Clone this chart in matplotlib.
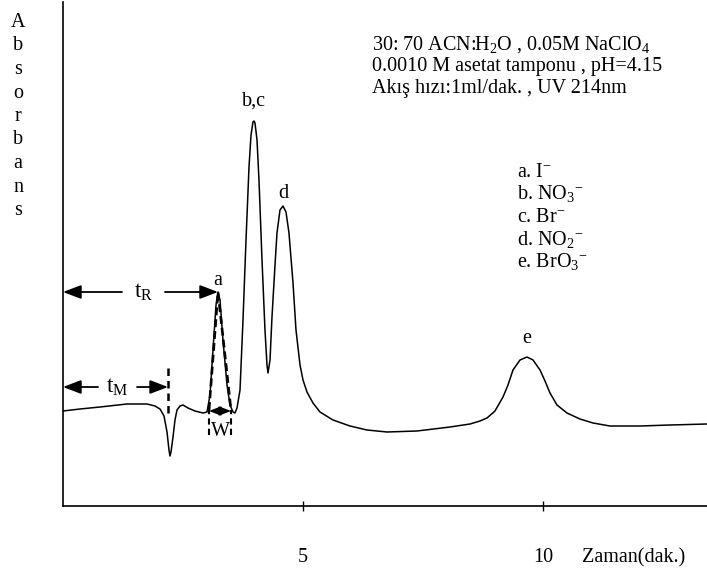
import numpy as np
import matplotlib
matplotlib.use('Agg')
import matplotlib.pyplot as plt

plt.rcParams['font.family'] = 'Liberation Serif'
plt.rcParams['mathtext.fontset'] = 'custom'
plt.rcParams['mathtext.rm'] = 'Liberation Serif'
plt.rcParams['mathtext.it'] = 'Liberation Serif'

# chromatogram trace: time [min], absorbance [a.u.]
time = [
    0.000, 0.354, 0.771, 1.333, 1.750, 1.917, 2.021, 2.104, 2.167, 2.208,
    2.229, 2.250, 2.292, 2.333, 2.375, 2.438, 2.500, 2.604, 2.750, 2.917,
    3.000, 3.063, 3.125, 3.188, 3.229, 3.271, 3.333, 3.417, 3.479, 3.542,
    3.583, 3.625, 3.688, 3.750, 3.813, 3.875, 3.917, 3.958, 3.979, 4.000,
    4.042, 4.083, 4.146, 4.208, 4.250, 4.271, 4.313, 4.354, 4.417, 4.458,
    4.521, 4.583, 4.646, 4.708, 4.750, 4.792, 4.854, 4.938, 5.000, 5.083,
    5.208, 5.354, 5.625, 5.979, 6.333, 6.750, 7.375, 8.063, 8.479, 8.688,
    8.833, 9.000, 9.167, 9.271, 9.375, 9.521, 9.667, 9.792, 9.938, 10.042,
    10.146, 10.292, 10.500, 10.771, 11.042, 11.396, 12.021, 12.646, 13.417,
]
absorbance = [
    0.95, 0.97, 0.99, 1.02, 1.02, 1.00, 0.97, 0.90, 0.74, 0.56,
    0.50, 0.54, 0.69, 0.86, 0.96, 1.00, 1.01, 0.98, 0.95, 0.93,
    0.94, 1.11, 1.56, 2.01, 2.14, 2.06, 1.66, 1.21, 1.01, 0.94,
    0.93, 0.98, 1.16, 1.86, 2.66, 3.39, 3.71, 3.84, 3.85, 3.83,
    3.66, 3.26, 2.46, 1.76, 1.41, 1.33, 1.46, 1.89, 2.41, 2.73,
    2.96, 3.00, 2.94, 2.73, 2.48, 2.23, 1.76, 1.41, 1.26, 1.14,
    1.03, 0.94, 0.86, 0.80, 0.76, 0.74, 0.75, 0.79, 0.82, 0.85,
    0.88, 0.95, 1.09, 1.21, 1.36, 1.46, 1.49, 1.46, 1.36, 1.25,
    1.13, 1.01, 0.93, 0.87, 0.83, 0.80, 0.80, 0.81, 0.82,
]

# peak labels and apex positions
peak_names = ['a', 'b,c', 'd', 'e']
peak_times = [3.229, 3.979, 4.583, 9.667]
peak_heights = [2.14, 3.85, 3.00, 1.49]
label_offsets = [5, 11, 6, 10]  # points above apex

t_M = 2.1875          # dead time
t_R = 3.229           # retention time of peak a
w_left, w_right = 3.042, 3.500   # tangent base of peak a
base_level = 0.96

conditions = [
    r'30: 70 ACN:H$_2$O , 0.05M NaClO$_4$',
    r'0.0010 M asetat tamponu , pH=4.15',
    r'Akış hızı:1ml/dak. , UV 214nm',
]
ions = [
    r'a. I$^{-}$',
    r'b. NO$_3$$^{-}$',
    r'c. Br$^{-}$',
    r'd. NO$_2$$^{-}$',
    r'e. BrO$_3$$^{-}$',
]

W, H = 707, 573
fig = plt.figure(figsize=(W / 100, H / 100), dpi=100)
ax = fig.add_axes([63 / W, 67 / H, 644 / W, 504 / H])

ax.plot(time, absorbance, color='k', lw=1.1)

ax.set_xlim(0, 13.417)
ax.set_ylim(0, 5.04)
for s in ['top', 'right']:
    ax.spines[s].set_visible(False)
for s in ['left', 'bottom']:
    ax.spines[s].set_linewidth(1.2)
ax.set_yticks([])
ax.set_xticks([5, 10])
ax.set_xticklabels(['5', '10'], fontsize=14.5)
ax.tick_params(axis='x', direction='inout', length=7, width=1, pad=27)

fs = 14.5
for name, t, h, off in zip(peak_names, peak_times, peak_heights, label_offsets):
    ax.annotate(name, (t, h), xytext=(0, off), textcoords='offset points',
                ha='center', va='baseline', fontsize=fs)

head = dict(arrowstyle='-|>,head_length=1.1,head_width=0.42', color='k',
            lw=1.3, shrinkA=0, shrinkB=0, mutation_scale=10)


def split_arrow(y, x_gap0, x_gap1, x_end, label):
    ax.annotate('', xy=(0, y), xytext=(x_gap0, y), arrowprops=head)
    ax.annotate('', xy=(x_end, y), xytext=(x_gap1, y), arrowprops=head)
    ax.text((x_gap0 + x_gap1) / 2, y, label, ha='center', va='center',
            fontsize=fs + 2)


t_R_y = peak_heights[0]
split_arrow(t_R_y, 1.229, 2.125, t_R, r'$\mathrm{t_R}$')
split_arrow(1.19, 0.729, 1.542, t_M, r'$\mathrm{t_M}$')

# dead-time marker
ax.plot([t_M, t_M], [0.93, 1.43], color='k', lw=1.8, ls=(0, (3, 2)))

# tangents on peak a and base width
ax.plot([w_left, t_R, w_right], [base_level, t_R_y, base_level],
        color='k', lw=1.9, ls=(0, (3, 1.5)))
for xw in (w_left, w_right):
    ax.plot([xw, xw], [0.71, 0.96], color='k', lw=1.5, ls=(0, (3, 2)))
ax.annotate('', xy=(w_left, 0.95), xytext=(w_right, 0.95),
            arrowprops=dict(arrowstyle='<|-|>,head_length=0.9,head_width=0.35',
                            color='k', lw=1.0, shrinkA=0, shrinkB=0,
                            mutation_scale=8))
ax.text((w_left + w_right) / 2, 0.74, 'W', ha='center', va='center', fontsize=fs)

# conditions and peak identities
for i, line in enumerate(conditions):
    fig.text(372 / W, 1 - (50 + 21.5 * i) / H, line, fontsize=fs, va='baseline')
for i, line in enumerate(ions):
    fig.text(517 / W, 1 - (177 + 22.5 * i) / H, line, fontsize=fs, va='baseline')

# vertical axis title, one letter per row
for i, ch in enumerate('Absorbans'):
    fig.text(18 / W, 1 - (27 + 23.5 * i) / H, ch, fontsize=fs, ha='center',
             va='baseline')

fig.text(582 / W, 1 - 562 / H, 'Zaman(dak.)', fontsize=fs, va='baseline')

fig.savefig('out.png', dpi=100)
